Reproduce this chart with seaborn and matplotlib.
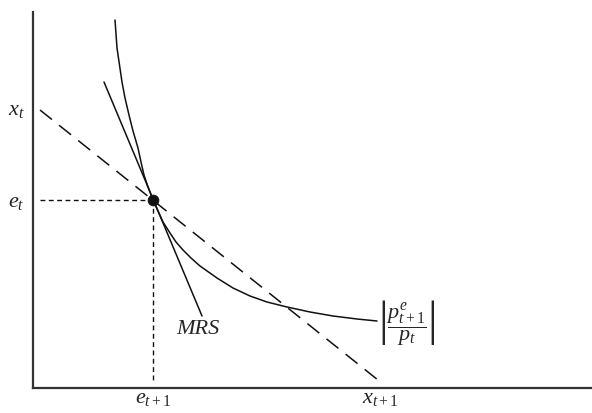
import numpy as np
import pandas as pd
import matplotlib
matplotlib.use("Agg")
import matplotlib.pyplot as plt
import seaborn as sns

sns.set_theme(style="white")
plt.rcParams["font.family"] = ["Liberation Serif", "DejaVu Serif"]
plt.rcParams["mathtext.fontset"] = "custom"
plt.rcParams["mathtext.rm"] = "Liberation Serif"
plt.rcParams["mathtext.it"] = "Liberation Serif:italic"
plt.rcParams["mathtext.bf"] = "Liberation Serif:bold"

# ---- data (diagram units) ----
curve_x = [82, 83, 84, 86.5, 89, 92, 96, 100, 105, 108, 111, 115, 120, 125, 130,
           137, 143, 150, 158, 167, 184, 200, 217, 234, 254, 277, 300, 324, 344]
curve_y = [368, 354, 340, 323, 306, 290, 273, 257, 240, 226, 213, 201, 188, 177, 166,
           155, 146, 138, 130, 122, 110, 100, 92, 86, 81, 76, 72, 69, 67]
mrs_x = [71, 169]
mrs_y = [306, 72]
budget_x = [7, 345]
budget_y = [278, 8]
point_x = [120]
point_y = [188]
guide_h_x = [7, 120]
guide_h_y = [188, 188]
guide_v_x = [120, 120]
guide_v_y = [188, 6]
xtick_pos = [120, 347]
xtick_labels = [r"$e_{t+1}$", r"$x_{t+1}$"]
ytick_pos = [280, 188]
ytick_labels = [r"$x_t$", r"$e_t$"]

W, H = 592, 413
fig = plt.figure(figsize=(W / 100, H / 100), dpi=100)
ax = fig.add_axes([33 / W, (H - 388) / H, (W - 33) / W, (388 - 12) / H])
ax.set_xlim(0, 559)
ax.set_ylim(0, 376)

ink = "#111111"
sns.lineplot(x=curve_x, y=curve_y, sort=False, ax=ax, color=ink, lw=1.1, estimator=None)
sns.lineplot(x=mrs_x, y=mrs_y, sort=False, ax=ax, color=ink, lw=1.1, estimator=None)
ax.plot(budget_x, budget_y, color=ink, lw=1.1, dashes=(10, 6))
ax.plot(guide_h_x, guide_h_y, color=ink, lw=1.0, dashes=(3.5, 2.5))
ax.plot(guide_v_x, guide_v_y, color=ink, lw=1.0, dashes=(3.5, 2.5))
sns.scatterplot(x=point_x, y=point_y, ax=ax, color=ink, s=60, zorder=5, edgecolor=ink)

for s in ["top", "right"]:
    ax.spines[s].set_visible(False)
for s in ["left", "bottom"]:
    ax.spines[s].set_color("#333333")
    ax.spines[s].set_linewidth(1.6)

ax.set_xticks(xtick_pos)
ax.set_xticklabels(xtick_labels, fontsize=16)
ax.set_yticks(ytick_pos)
ax.set_yticklabels(ytick_labels, fontsize=16)
ax.tick_params(axis="x", length=0, pad=1)
ax.tick_params(axis="y", length=0, pad=6)
ax.grid(False)

ax.text(165, 58, "MRS", fontsize=16, style="italic", ha="center", va="center")
ax.text(374, 66, r"$\left|\dfrac{p^{e}_{t+1}}{p_{t}}\right|$", fontsize=16,
        ha="center", va="center")

fig.savefig("out.png", dpi=100)
